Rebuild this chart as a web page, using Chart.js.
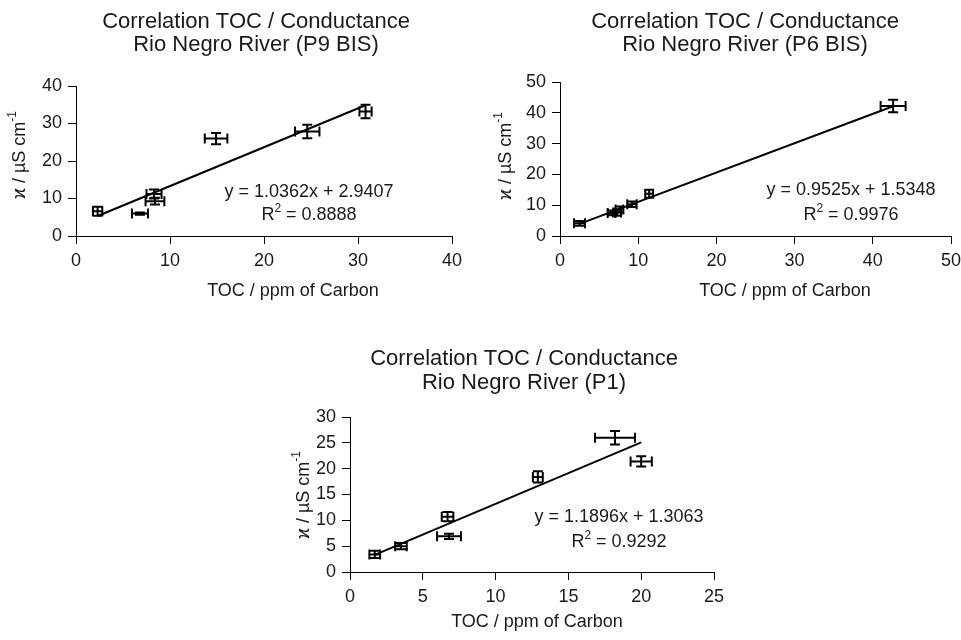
<!DOCTYPE html>
<html>
<head>
<meta charset="utf-8">
<title>Correlation TOC / Conductance</title>
<script src="https://cdn.jsdelivr.net/npm/chart.js@4.4.1/dist/chart.umd.min.js"></script>
<style>
  html, body { margin: 0; padding: 0; background: #fff; }
  body { width: 961px; height: 640px; position: relative; overflow: hidden; }
  canvas { position: absolute; }
</style>
</head>
<body>
<canvas id="chartP9" width="480" height="300" style="left:0;top:0"></canvas>
<canvas id="chartP6" width="500" height="300" style="left:480px;top:0"></canvas>
<canvas id="chartP1" width="500" height="340" style="left:240px;top:300px"></canvas>
<script>
// P9 BIS
const p9Toc = [2.3, 6.8, 8.3, 8.4, 14.9, 24.6, 30.8];
const p9Cond = [6.6, 6.0, 11.2, 9.3, 26.0, 27.9, 33.2];
const p9TocErr = [0.5, 0.85, 0.8, 1.0, 1.2, 1.3, 0.65];
const p9CondErr = [1.2, 0.3, 1.2, 0.9, 1.5, 1.8, 1.8];
const p9Fit = [1.0362, 2.9407, 0.8888]; // slope, intercept, R2

// P6 BIS
const p6Toc = [2.5, 6.6, 7.3, 7.6, 9.2, 11.4, 42.6];
const p6Cond = [4.1, 7.5, 7.6, 8.6, 10.3, 13.7, 42.2];
const p6TocErr = [0.7, 0.5, 0.5, 0.5, 0.6, 0.5, 1.6];
const p6CondErr = [0.8, 0.8, 1.0, 1.0, 0.9, 1.3, 2.0];
const p6Fit = [0.9525, 1.5348, 0.9976];

// P1
const p1Toc = [1.7, 3.5, 6.7, 6.8, 12.9, 18.2, 20.0];
const p1Cond = [3.4, 5.0, 10.7, 6.9, 18.4, 26.0, 21.4];
const p1TocErr = [0.37, 0.4, 0.4, 0.82, 0.34, 1.37, 0.73];
const p1CondErr = [0.7, 0.6, 0.9, 0.5, 1.1, 1.3, 1.0];
const p1Fit = [1.1896, 1.3063, 0.9292];

const FONT = "'Liberation Sans', Arial, Helvetica, sans-serif";
const INK = '#1a1a1a';

Chart.defaults.font.family = FONT;
Chart.defaults.color = INK;

// draws x and y error bars for the first dataset
const errorBars = {
    id: 'errorBars',
    afterDatasetsDraw(chart) {
        const ds = chart.data.datasets[0];
        const xs = chart.scales.x;
        const ys = chart.scales.y;
        const ctx = chart.ctx;
        const cap = 5;
        ctx.save();
        ctx.strokeStyle = '#000';
        ctx.lineWidth = 2;
        ds.data.forEach((p, i) => {
            const px = xs.getPixelForValue(p.x);
            const py = ys.getPixelForValue(p.y);
            const xa = xs.getPixelForValue(p.x - ds.errX[i]);
            const xb = xs.getPixelForValue(p.x + ds.errX[i]);
            const ya = ys.getPixelForValue(p.y - ds.errY[i]);
            const yb = ys.getPixelForValue(p.y + ds.errY[i]);
            ctx.beginPath();
            ctx.moveTo(xa, py); ctx.lineTo(xb, py);
            ctx.moveTo(xa, py - cap); ctx.lineTo(xa, py + cap);
            ctx.moveTo(xb, py - cap); ctx.lineTo(xb, py + cap);
            ctx.moveTo(px, ya); ctx.lineTo(px, yb);
            ctx.moveTo(px - cap, ya); ctx.lineTo(px + cap, ya);
            ctx.moveTo(px - cap, yb); ctx.lineTo(px + cap, yb);
            ctx.stroke();
        });
        ctx.restore();
    }
};

// text with a superscript part, centred on cx
function drawSup(ctx, parts, cx, cy, size) {
    const supSize = Math.round(size * 0.65);
    let total = 0;
    parts.forEach(pt => {
        ctx.font = (pt.sup ? supSize : size) + 'px ' + FONT;
        pt.w = ctx.measureText(pt.t).width;
        total += pt.w;
    });
    let x = cx - total / 2;
    parts.forEach(pt => {
        ctx.font = (pt.sup ? supSize : size) + 'px ' + FONT;
        ctx.fillText(pt.t, x, pt.sup ? cy - size * 0.42 : cy);
        x += pt.w;
    });
}

function textPlugin(t, fit) {
    return {
        id: 'chartText',
        afterDraw(chart) {
            const ctx = chart.ctx;
            ctx.save();
            ctx.fillStyle = INK;
            ctx.textAlign = 'left';
            ctx.textBaseline = 'alphabetic';

            // title
            ctx.font = '22px ' + FONT;
            ctx.textAlign = 'center';
            ctx.fillText('Correlation TOC / Conductance', t.titleX, t.titleY[0]);
            ctx.fillText(t.station, t.titleX, t.titleY[1]);

            // x axis title
            ctx.font = '18px ' + FONT;
            ctx.fillText('TOC / ppm of Carbon', t.xTitle[0], t.xTitle[1]);

            // equation + R2
            ctx.textAlign = 'left';
            ctx.font = '18px ' + FONT;
            const eq = 'y = ' + fit[0].toFixed(4) + 'x + ' + fit[1].toFixed(4);
            const w = ctx.measureText(eq).width;
            ctx.fillText(eq, t.eq[0] - w / 2, t.eq[1]);
            drawSup(ctx, [{ t: 'R' }, { t: '2', sup: true }, { t: ' = ' + fit[2].toFixed(4) }], t.eq[0], t.eq[2], 18);

            // y axis title, rotated
            ctx.translate(t.yTitle[0], t.yTitle[1]);
            ctx.rotate(-Math.PI / 2);
            ctx.textBaseline = 'middle';
            drawSup(ctx, [{ t: '\u03F0 / \u00B5S cm' }, { t: '-1', sup: true }], 0, 0, 18);
            ctx.restore();
        }
    };
}

function makeChart({ canvasId, toc, cond, tocErr, condErr, fit, xMax, xStep, yMax, yStep, box, text }) {
    const points = toc.map((v, i) => ({ x: v, y: cond[i] }));
    const lo = Math.min(...toc);
    const hi = Math.max(...toc);
    const trend = [lo, hi].map(v => ({ x: v, y: fit[0] * v + fit[1] }));

    const axis = (max, step, fitFn) => ({
        type: 'linear',
        min: 0,
        max: max,
        ticks: { stepSize: step, font: { size: 18 }, color: INK, padding: 6, maxRotation: 0 },
        grid: { drawOnChartArea: false, drawTicks: true, tickLength: 8, color: '#000', lineWidth: 1 },
        border: { display: true, color: '#000', width: 1 },
        afterFit: fitFn
    });

    return new Chart(document.getElementById(canvasId), {
        type: 'scatter',
        data: {
            datasets: [
                { data: points, pointRadius: 0, errX: tocErr, errY: condErr },
                { data: trend, showLine: true, borderColor: '#000', borderWidth: 2, pointRadius: 0, fill: false }
            ]
        },
        options: {
            responsive: false,
            animation: false,
            layout: { padding: { left: 0, right: box.right, top: box.top, bottom: 0 } },
            plugins: {
                legend: { display: false },
                title: { display: false },
                tooltip: { enabled: false }
            },
            scales: {
                x: axis(xMax, xStep, s => { s.height = box.xh; }),
                y: axis(yMax, yStep, s => { s.width = box.left; })
            }
        },
        plugins: [errorBars, textPlugin(text, fit)]
    });
}

makeChart({
    canvasId: 'chartP9',
    toc: p9Toc, cond: p9Cond, tocErr: p9TocErr, condErr: p9CondErr, fit: p9Fit,
    xMax: 40, xStep: 10, yMax: 40, yStep: 10,
    box: { left: 76, right: 28, top: 86, xh: 64 },
    text: {
        station: 'Rio Negro River (P9 BIS)',
        titleX: 256, titleY: [28, 51],
        xTitle: [293, 296],
        yTitle: [20, 155],
        eq: [309, 197, 220]
    }
});

makeChart({
    canvasId: 'chartP6',
    toc: p6Toc, cond: p6Cond, tocErr: p6TocErr, condErr: p6CondErr, fit: p6Fit,
    xMax: 50, xStep: 10, yMax: 50, yStep: 10,
    box: { left: 80, right: 29, top: 82, xh: 64 },
    text: {
        station: 'Rio Negro River (P6 BIS)',
        titleX: 265, titleY: [28, 51],
        xTitle: [305, 296],
        yTitle: [26, 156],
        eq: [371, 195, 220]
    }
});

makeChart({
    canvasId: 'chartP1',
    toc: p1Toc, cond: p1Cond, tocErr: p1TocErr, condErr: p1CondErr, fit: p1Fit,
    xMax: 25, xStep: 5, yMax: 30, yStep: 5,
    box: { left: 110, right: 26, top: 117, xh: 68 },
    text: {
        station: 'Rio Negro River (P1)',
        titleX: 284, titleY: [65, 89],
        xTitle: [297, 327],
        yTitle: [64, 195],
        eq: [379, 222, 247]
    }
});
</script>
</body>
</html>
